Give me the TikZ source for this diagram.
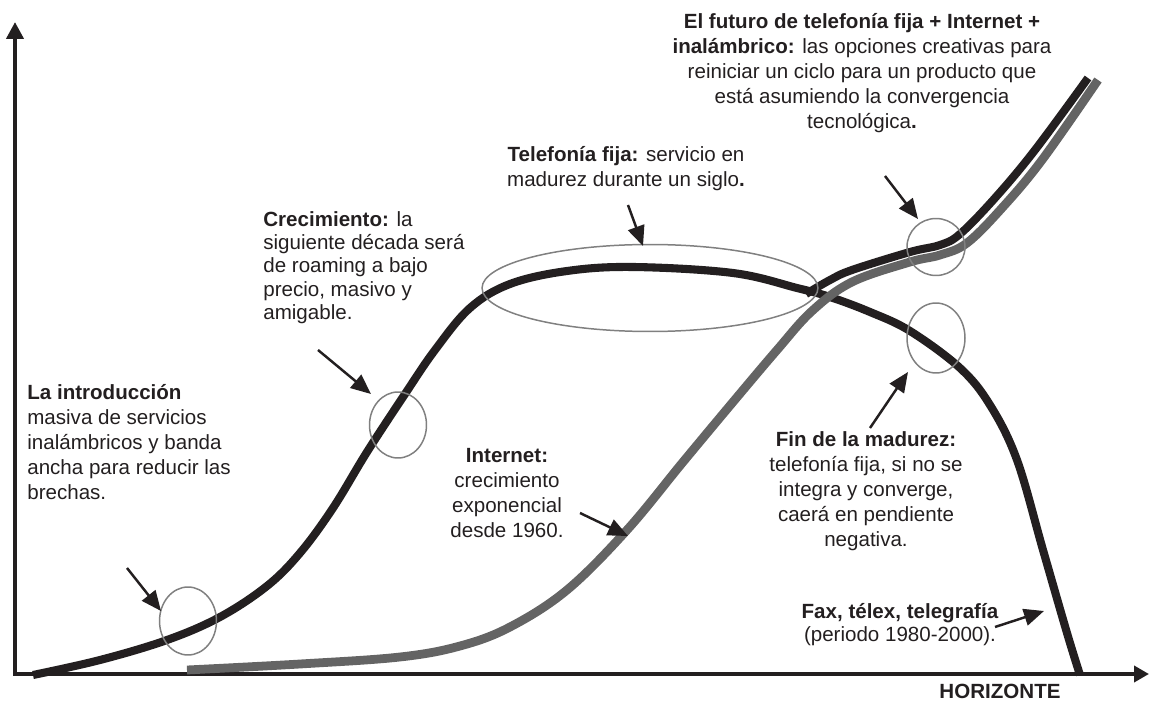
\documentclass[tikz,border=0pt]{standalone}
\usepackage{fontspec}
\setmainfont{Liberation Sans}
\usetikzlibrary{arrows.meta,shapes.geometric}
\definecolor{ink}{HTML}{231F20}
\definecolor{netgray}{HTML}{646464}
\definecolor{ringgray}{HTML}{808080}
\tikzset{
  txt/.style={inner sep=0pt, font={\fontsize{11.7pt}{14.2pt}\selectfont}, text=ink},
  txtc/.style={txt, align=center, anchor=north},
  txtl/.style={txt, align=left, anchor=north west},
  axis/.style={draw=ink, line width=2.3pt, {Triangle[length=0.34cm,width=0.34cm]}-{Triangle[length=0.3cm,width=0.32cm]}},
  pointer/.style={draw=ink, line width=1.4pt, -{Triangle[length=0.4cm,width=0.34cm]}},
  ring/.style={draw=ringgray, line width=0.85pt, ellipse, inner sep=0pt},
  blackcurve/.style={draw=ink, line width=4.6pt},
  netcurve/.style={draw=netgray, line width=5pt},
}
\begin{document}
\begin{tikzpicture}[x=0.02cm, y=-0.02cm]
\useasboundingbox (0,0) rectangle (1150,702);
% axes
\coordinate (O) at (15,674);
\coordinate (ytip) at (15,22);
\coordinate (xtip) at (1149,674);
\draw[axis] (ytip) -- (O) -- (xtip);
% main black curve
\draw[blackcurve] plot[smooth, tension=0.6] coordinates {(33,675) (100,660) (167,640) (220,617) (267,586) (300,553) (333,508) (367,452) (405,394) (435,350) (470,308) (510,284) (567,271) (633,267) (733,273) (797,288) (830,297) (870,312) (910,331) (960,368) (990,405) (1017,460) (1043,550) (1067,633) (1080,675)};
% internet curve
\draw[netcurve] plot[smooth, tension=0.6] coordinates {(187,670) (300,664) (400,657) (460,646) (510,627) (567,590) (627,530) (683,462) (733,402) (777,350) (812,311) (852,282) (910,262) (940,255) (967,243) (1002,208) (1042,160) (1098,80)};
% upper black strip
\draw[blackcurve] plot[smooth, tension=0.6] coordinates {(806,294) (830,280) (852,270) (910,252) (940,245) (960,234) (995,198) (1035,150) (1088,78)};
% rings
\node[ring, minimum width=1.14cm, minimum height=1.36cm] (cintro) at (188,621) {};
\node[ring, minimum width=1.14cm, minimum height=1.32cm] (ccre) at (398,425) {};
\node[ring, minimum width=6.72cm, minimum height=1.74cm] (ctel) at (650,288) {};
\node[ring, minimum width=1.16cm, minimum height=1.14cm] (cfut) at (936,247) {};
\node[ring, minimum width=1.16cm, minimum height=1.40cm] (cfin) at (936,338) {};
% pointers
\coordinate (pintroA) at (127,568); \coordinate (pintroB) at (161,611);
\coordinate (pcreA) at (318,350);   \coordinate (pcreB) at (371,394);
\coordinate (ptelA) at (628,205);   \coordinate (ptelB) at (643,246);
\coordinate (pfutA) at (885,176);   \coordinate (pfutB) at (918,219);
\coordinate (pnetA) at (580,513);   \coordinate (pnetB) at (628,536);
\coordinate (pfinA) at (870,428);   \coordinate (pfinB) at (908,372);
\coordinate (pfaxA) at (995,627);   \coordinate (pfaxB) at (1044,611);
\draw[pointer] (pintroA) -- (pintroB);
\draw[pointer] (pcreA) -- (pcreB);
\draw[pointer] (ptelA) -- (ptelB);
\draw[pointer] (pfutA) -- (pfutB);
\draw[pointer] (pnetA) -- (pnetB);
\draw[pointer] (pfinA) -- (pfinB);
\draw[pointer] (pfaxA) -- (pfaxB);
% texts
\node[txtc] (tfut) at (862,13) {\textbf{El futuro de telefonía fija + Internet +}\\ \textbf{inalámbrico:} las opciones creativas para\\ reiniciar un ciclo para un producto que\\ está asumiendo la convergencia\\ tecnológica\textbf{.}};
\node[txtc] (ttel) at (626,146) {\textbf{Telefonía fija:} servicio en\\ madurez durante un siglo\textbf{.}};
\node[txtl, font={\fontsize{11.7pt}{13.3pt}\selectfont}] (tcre) at (263,211) {\textbf{Crecimiento:} la\\ siguiente década será\\ de roaming a bajo\\ precio, masivo y\\ amigable.};
\node[txtl] (tintro) at (27,384) {\textbf{La introducción}\\ masiva de servicios\\ inalámbricos y banda\\ ancha para reducir las\\ brechas.};
\node[txtc] (tnet) at (507,448) {\textbf{Internet:}\\ crecimiento\\ exponencial\\ desde 1960.};
\node[txtc] (tfin) at (866,431) {\textbf{Fin de la madurez:}\\ telefonía fija, si no se\\ integra y converge,\\ caerá en pendiente\\ negativa.};
\node[txtc, font={\fontsize{11.7pt}{13.1pt}\selectfont}] (tfax) at (900,603) {\textbf{Fax, télex, telegrafía}\\ (periodo 1980-2000).};
\node[txtc] (thor) at (1000,684) {\textbf{HORIZONTE}};
\end{tikzpicture}
\end{document}
